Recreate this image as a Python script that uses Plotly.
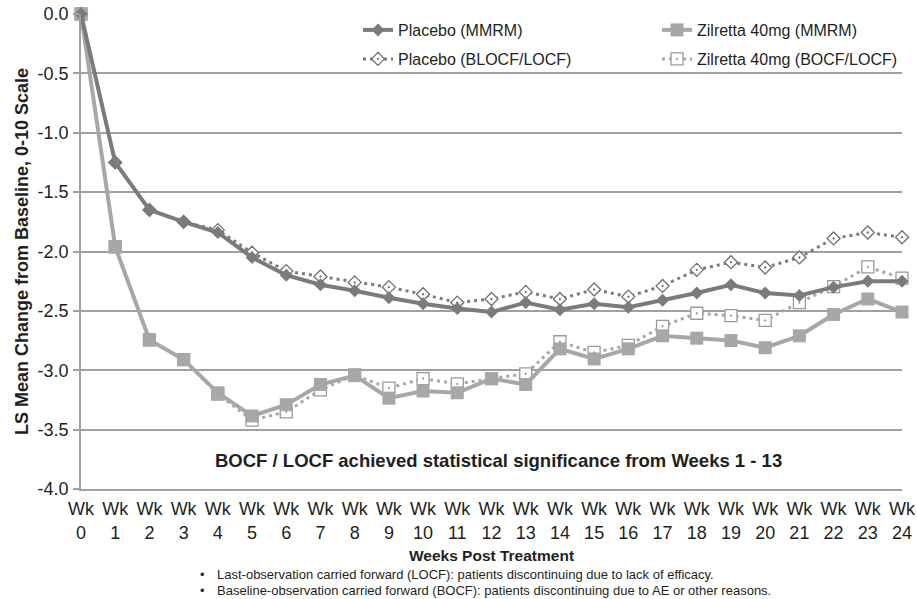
import plotly.graph_objects as go

weeks = [0, 1, 2, 3, 4, 5, 6, 7, 8, 9, 10, 11, 12, 13, 14, 15, 16, 17, 18, 19, 20, 21, 22, 23, 24]
week_labels = ["Wk<br>0", "Wk<br>1", "Wk<br>2", "Wk<br>3", "Wk<br>4", "Wk<br>5", "Wk<br>6",
               "Wk<br>7", "Wk<br>8", "Wk<br>9", "Wk<br>10", "Wk<br>11", "Wk<br>12", "Wk<br>13",
               "Wk<br>14", "Wk<br>15", "Wk<br>16", "Wk<br>17", "Wk<br>18", "Wk<br>19", "Wk<br>20",
               "Wk<br>21", "Wk<br>22", "Wk<br>23", "Wk<br>24"]

placebo_mmrm = [0, -1.25, -1.65, -1.75, -1.84, -2.05, -2.20, -2.28, -2.33, -2.39, -2.44, -2.48,
                -2.51, -2.43, -2.49, -2.44, -2.47, -2.41, -2.35, -2.28, -2.35, -2.37, -2.30, -2.25, -2.25]
placebo_bocf = [0, -1.25, -1.65, -1.75, -1.82, -2.01, -2.165, -2.21, -2.26, -2.30, -2.36, -2.43,
                -2.40, -2.34, -2.40, -2.32, -2.38, -2.29, -2.155, -2.09, -2.135, -2.05, -1.89, -1.84, -1.88]
zil_mmrm = [0, -1.96, -2.745, -2.91, -3.19, -3.385, -3.29, -3.12, -3.045, -3.235, -3.175, -3.19,
            -3.07, -3.12, -2.82, -2.905, -2.82, -2.71, -2.73, -2.75, -2.81, -2.71, -2.53, -2.40, -2.51]
zil_bocf = [0, -1.96, -2.745, -2.91, -3.20, -3.42, -3.35, -3.165, -3.04, -3.15, -3.07, -3.115,
            -3.07, -3.03, -2.76, -2.85, -2.79, -2.63, -2.52, -2.54, -2.58, -2.43, -2.295, -2.13, -2.225]

y_ticks = [0.0, -0.5, -1.0, -1.5, -2.0, -2.5, -3.0, -3.5, -4.0]
y_tick_labels = ["0.0", "-0.5", "-1.0", "-1.5", "-2.0", "-2.5", "-3.0", "-3.5", "-4.0"]

DARK = "#7b7b7b"
LIGHT = "#a7a7a9"
TXT = "#231f20"
FONT = "Liberation Sans, Arial, sans-serif"

W, H = 917, 599
ML, MR, MT, MB = 81, 15, 14, 110
PW, PH = W - ML - MR, H - MT - MB


def px(x):
    return (x - ML) / PW


def py(y):
    return (H - MB - y) / PH


fig = go.Figure()

fig.add_trace(go.Scatter(
    x=weeks, y=zil_bocf, name="Zilretta 40mg (BOCF/LOCF)", mode="lines+markers",
    line=dict(color=LIGHT, width=3, dash="3px,4px"),
    marker=dict(symbol="square-dot", size=12, color="white", line=dict(color="#9a9a9c", width=1.3)),
    legend="legend4", showlegend=True, cliponaxis=False))
fig.add_trace(go.Scatter(
    x=weeks, y=placebo_bocf, name="Placebo (BLOCF/LOCF)", mode="lines+markers",
    line=dict(color=DARK, width=3, dash="3px,4px"),
    marker=dict(symbol="diamond-dot", size=10, color="white", line=dict(color="#6f6f6f", width=1.3)),
    legend="legend2", showlegend=True, cliponaxis=False))
fig.add_trace(go.Scatter(
    x=weeks, y=zil_mmrm, name="Zilretta 40mg (MMRM)", mode="lines+markers",
    line=dict(color=LIGHT, width=4),
    marker=dict(symbol="square", size=13, color=LIGHT),
    legend="legend3", showlegend=True, cliponaxis=False))
fig.add_trace(go.Scatter(
    x=weeks, y=placebo_mmrm, name="Placebo (MMRM)", mode="lines+markers",
    line=dict(color=DARK, width=4),
    marker=dict(symbol="diamond", size=10, color=DARK),
    legend="legend", showlegend=True, cliponaxis=False))

leg_common = dict(bgcolor="rgba(0,0,0,0)", font=dict(family=FONT, size=16, color=TXT),
                  xanchor="left", yanchor="middle", borderwidth=0)

fig.update_layout(
    width=W, height=H,
    margin=dict(l=ML, r=MR, t=MT, b=MB),
    paper_bgcolor="white", plot_bgcolor="white",
    font=dict(family=FONT, color=TXT),
    showlegend=True,
    legend=dict(x=px(358), y=py(30), **leg_common),
    legend2=dict(x=px(358), y=py(59), **leg_common),
    legend3=dict(x=px(657), y=py(30), **leg_common),
    legend4=dict(x=px(657), y=py(59), **leg_common),
    xaxis=dict(
        range=[0, 24], tickmode="array", tickvals=weeks, ticktext=week_labels,
        showgrid=False, zeroline=False, showline=True, linecolor="#a0a0a0", linewidth=1.5,
        ticks="", tickfont=dict(family=FONT, size=18, color=TXT), ticklabelstandoff=3,
        title=dict(text="<b>Weeks Post Treatment</b>", font=dict(family=FONT, size=15.5, color=TXT),
                   standoff=8),
        automargin=False),
    yaxis=dict(
        range=[-4.0, 0.0], tickmode="array", tickvals=y_ticks, ticktext=y_tick_labels,
        showgrid=True, gridcolor="#a0a0a0", gridwidth=1.5, zeroline=False,
        showline=True, linecolor="#a0a0a0", linewidth=1.5,
        ticks="outside", ticklen=6, tickcolor="#a0a0a0", tickwidth=1.5,
        tickfont=dict(family=FONT, size=18, color=TXT), ticklabelstandoff=1,
        title=dict(text="<b>LS Mean Change from Baseline, 0-10 Scale</b>",
                   font=dict(family=FONT, size=18, color=TXT), standoff=4),
        automargin=False),
    annotations=[
        dict(text="<b>BOCF / LOCF achieved statistical significance from Weeks 1 - 13</b>",
             x=px(498), y=py(460), xref="paper", yref="paper", showarrow=False,
             xanchor="center", yanchor="middle", font=dict(family=FONT, size=18.5, color=TXT)),
        dict(text="•", x=px(202), y=py(574), xref="paper", yref="paper", showarrow=False,
             xanchor="center", yanchor="middle", font=dict(family=FONT, size=13, color=TXT)),
        dict(text="•", x=px(202), y=py(590), xref="paper", yref="paper", showarrow=False,
             xanchor="center", yanchor="middle", font=dict(family=FONT, size=13, color=TXT)),
        dict(text="Last-observation carried forward (LOCF): patients discontinuing due to lack of efficacy.",
             x=px(215), y=py(574), xref="paper", yref="paper", showarrow=False,
             xanchor="left", yanchor="middle", font=dict(family=FONT, size=13, color=TXT)),
        dict(text="Baseline-observation carried forward (BOCF): patients discontinuing due to AE or other reasons.",
             x=px(215), y=py(590), xref="paper", yref="paper", showarrow=False,
             xanchor="left", yanchor="middle", font=dict(family=FONT, size=13, color=TXT)),
    ],
)

fig.write_html("out.html", config={"displayModeBar": False},
               post_script="document.body.style.margin='0px';document.body.style.overflow='hidden';")
